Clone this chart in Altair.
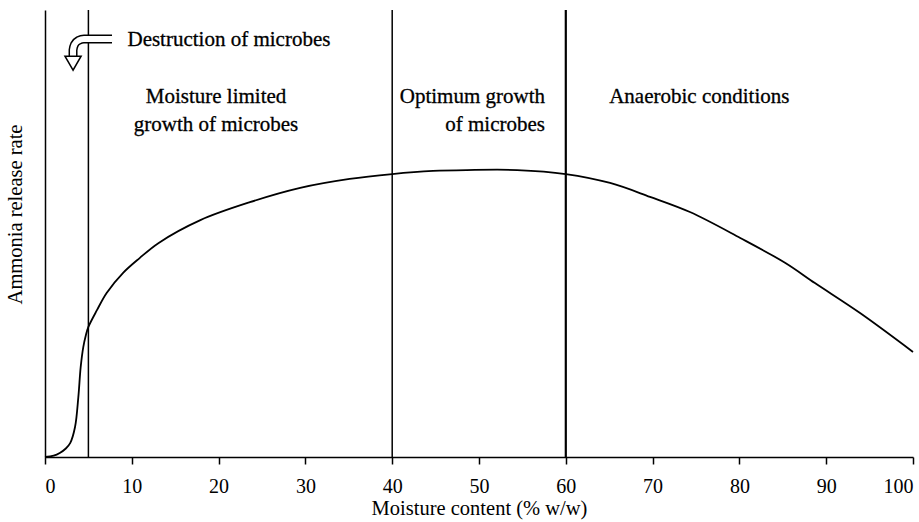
import altair as alt
import pandas as pd

# Curve
moisture = [0, 1, 1.7, 2.4, 2.9, 3.46, 3.84, 4.11, 4.41, 4.7, 5.0, 6.0, 7.1, 9.0,
            10.9, 13.1, 17.9, 23.6, 29.4, 35.1, 40, 44.7, 48.6, 54.4, 60, 65.1,
            69.7, 74.3, 80.1, 85.3, 88.7, 93.9, 100]
rate = [0, 0.3, 0.9, 1.9, 3.1, 6.7, 13.4, 20.1, 24.6, 27.2, 29.1, 32.9, 36.7,
        41.2, 44.5, 47.9, 53.0, 57.0, 60.2, 62.2, 63.3, 64.0, 64.2, 64.2, 63.3,
        61.3, 58.2, 54.8, 49.0, 43.4, 38.9, 32.2, 23.5]

# Zone boundaries
boundaries = [5, 40, 60]
boundary_widths = [1.5, 1.5, 2.2]

# Annotation texts
label_text = ["Destruction of microbes", "Moisture limited", "growth of microbes",
              "Optimum growth", "of microbes", "Anaerobic conditions"]
label_x = [9.5, 19.7, 19.7, 57.6, 57.6, 65.0]
label_y = [93.3, 80.6, 74.3, 80.6, 74.3, 80.6]
label_align = ["left", "center", "center", "right", "right", "left"]

# Bent arrow annotation (data coordinates)
arrow_x = [7.72, 4.49, 3.86, 3.40, 3.23, 3.23]
arrow_y = [93.5, 93.5, 93.18, 92.28, 91.05, 89.4]
arrow_head_x = [3.23]
arrow_head_y = [88.1]

FONT = "Liberation Serif"

curve_df = pd.DataFrame({"moisture": moisture, "rate": rate})
bound_df = pd.DataFrame({"x": boundaries, "y0": [0] * 3, "y1": [100] * 3,
                         "w": boundary_widths})
label_df = pd.DataFrame({"text": label_text, "x": label_x, "y": label_y,
                         "align": label_align})
arrow_df = pd.DataFrame({"x": arrow_x, "y": arrow_y, "order": list(range(len(arrow_x)))})
head_df = pd.DataFrame({"x": arrow_head_x, "y": arrow_head_y})

xscale = alt.Scale(domain=[0, 100], nice=False)
yscale = alt.Scale(domain=[0, 100], nice=False)

xaxis = alt.Axis(values=list(range(0, 101, 10)), tickSize=7, tickWidth=1.5,
                 domainWidth=1.5, domainColor="black", tickColor="black",
                 labelFont=FONT, labelFontSize=20, labelColor="black",
                 labelPadding=12, grid=False, title="Moisture content (% w/w)",
                 titleFont=FONT, titleFontSize=20.5, titleFontWeight="normal",
                 titleColor="black", titlePadding=2)
yaxis = alt.Axis(labels=False, ticks=False, grid=False, domainWidth=1.5,
                 domainColor="black", title="Ammonia release rate",
                 titleFont=FONT, titleFontSize=20.5, titleFontWeight="normal",
                 titleColor="black", titlePadding=20, titleY=204)

curve = alt.Chart(curve_df).mark_line(color="black", strokeWidth=1.8,
                                      interpolate="catmull-rom").encode(
    x=alt.X("moisture:Q", scale=xscale, axis=xaxis),
    y=alt.Y("rate:Q", scale=yscale, axis=yaxis),
)

rules = alt.Chart(bound_df).mark_rule(color="black").encode(
    x=alt.X("x:Q", scale=xscale),
    y=alt.Y("y0:Q", scale=yscale),
    y2="y1:Q",
    strokeWidth=alt.StrokeWidth("w:Q", scale=None, legend=None),
)

text_layers = []
for al in ["left", "center", "right"]:
    text_layers.append(
        alt.Chart(label_df).transform_filter(alt.datum.align == al).mark_text(
            font=FONT, fontSize=21, color="black", baseline="middle", align=al,
            stroke="black", strokeWidth=0.3
        ).encode(
            x=alt.X("x:Q", scale=xscale),
            y=alt.Y("y:Q", scale=yscale),
            text="text:N",
        )
    )

arrow_outer = alt.Chart(arrow_df).mark_line(color="black", strokeWidth=9,
                                            strokeCap="butt", strokeJoin="round",
                                            interpolate="monotone").encode(
    x=alt.X("x:Q", scale=xscale), y=alt.Y("y:Q", scale=yscale), order="order:Q")
arrow_inner = alt.Chart(arrow_df).mark_line(color="white", strokeWidth=6,
                                            strokeCap="butt", strokeJoin="round",
                                            interpolate="monotone").encode(
    x=alt.X("x:Q", scale=xscale), y=alt.Y("y:Q", scale=yscale), order="order:Q")
arrow_head = alt.Chart(head_df).mark_point(shape="triangle-down", size=260,
                                           filled=True, fill="white",
                                           stroke="black", strokeWidth=1.5,
                                           opacity=1).encode(
    x=alt.X("x:Q", scale=xscale), y=alt.Y("y:Q", scale=yscale))

chart = alt.layer(rules, curve, arrow_outer, arrow_inner, arrow_head, *text_layers).properties(
    width=868, height=447,
    autosize=alt.AutoSizeParams(type="none"),
    padding={"left": 45, "top": 10, "right": 6, "bottom": 65},
    background="white",
).configure_view(stroke=None)

chart.save("out.html", embed_options={"renderer": "svg", "actions": False})
